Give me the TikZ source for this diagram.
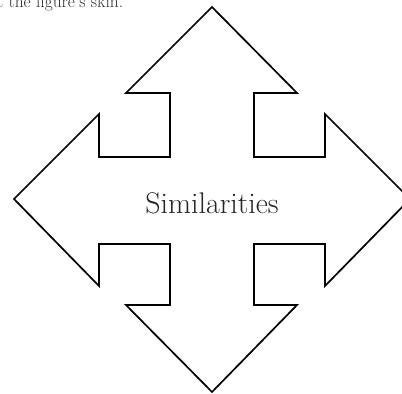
\documentclass[tikz,border=0pt]{standalone}
\usepackage{tikz}

\begin{document}
\begin{tikzpicture}[x=1bp,y=-1bp]
\useasboundingbox (0,0) rectangle (402,394);
\clip (0,0) rectangle (402,394);
% caption line cut off at the top:
\node[anchor=base west, inner sep=0pt, text=black!82, font=\fontsize{17.5}{20}\selectfont] (skin) at (-3,7.5) {t the figure's skin.};
% four-way arrow:
\draw[line width=1.7bp, line join=miter] (212,7) -- (297,93) -- (254,93) -- (254,157) -- (325,157) -- (325,114)
  -- (410,199) -- (325,286) -- (325,244) -- (254,244) -- (254,305) -- (297,305)
  -- (212,392) -- (126,305) -- (170,305) -- (170,244) -- (99,244) -- (99,286)
  -- (14,199) -- (99,114) -- (99,157) -- (170,157) -- (170,93) -- (126,93) -- cycle;
% label:
\node[anchor=base, inner sep=0pt, text=black!85, font=\fontsize{30}{36}\selectfont] (sim) at (212,213) {Similarities};
\end{tikzpicture}
\end{document}
